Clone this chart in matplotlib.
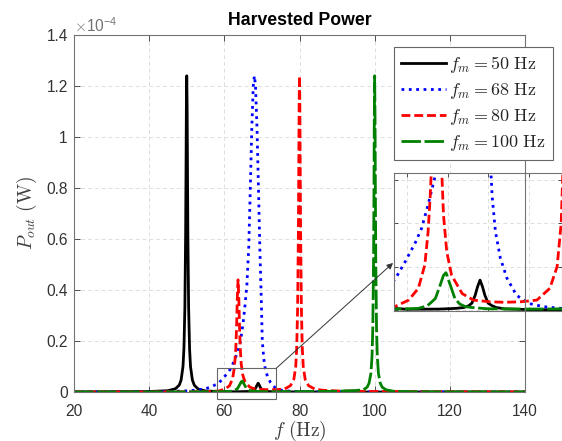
import matplotlib

matplotlib.use("Agg")
import matplotlib.pyplot as plt
import numpy as np
from matplotlib.lines import Line2D
from matplotlib.patches import Rectangle
from matplotlib.ticker import FuncFormatter

plt.rcParams["font.family"] = ["Liberation Sans", "DejaVu Sans"]
plt.rcParams["mathtext.fontset"] = "cm"

# power values in units of 1e-4 W
SCALE = 1e-4

f_black = [20, 30, 40, 45, 47, 48, 48.5, 49, 49.25, 49.5,
           49.7, 49.8, 49.9, 50, 50.1, 50.2, 50.3, 50.5, 50.75, 51,
           51.5, 52, 53, 55, 60, 64, 66, 67, 67.6, 68,
           68.4, 68.7, 69, 69.3, 69.6, 70, 70.5, 71, 72, 75,
           80, 90, 100, 120, 140]
p_black = [0.0005, 0.001, 0.002, 0.005, 0.013, 0.027, 0.047, 0.1, 0.17, 0.33,
           0.62, 0.86, 1.12, 1.24, 1.12, 0.86, 0.62, 0.33, 0.17, 0.1,
           0.047, 0.027, 0.012, 0.004, 0.001, 0.0012, 0.002, 0.003, 0.005, 0.008,
           0.017, 0.027, 0.0345, 0.027, 0.017, 0.008, 0.005, 0.003, 0.0015, 0.0006,
           0.0003, 0.0001, 0.0001, 0, 0]

f_blue = [20, 30, 40, 45, 50, 53, 55, 56.5, 58.5, 59.8,
          61.0, 61.8, 62.6, 63.5, 64.3, 65.0, 65.5, 66.0, 66.5, 66.9,
          67.3, 67.7, 68.0, 68.3, 68.7, 69.1, 69.4, 69.8, 70.1, 70.5,
          70.9, 71.5, 72.3, 73.5, 75.0, 76.8, 79, 82, 90, 100,
          120, 140]
p_blue = [0.0003, 0.0006, 0.0012, 0.002, 0.0045, 0.008, 0.013, 0.02, 0.035, 0.056,
          0.077, 0.094, 0.121, 0.155, 0.2, 0.27, 0.34, 0.42, 0.57, 0.79,
          1.03, 1.2, 1.24, 1.2, 1.03, 0.79, 0.59, 0.38, 0.2, 0.13,
          0.09, 0.06, 0.037, 0.017, 0.0077, 0.004, 0.002, 0.001, 0.0005, 0.0002,
          0.0001, 0]

f_red = [20, 40, 50, 55, 58.5, 60.2, 61.4, 62.2, 62.6, 62.85,
         63.05, 63.25, 63.45, 63.65, 63.85, 64.05, 64.3, 64.5, 64.9, 65.5,
         66.8, 68.2, 70.2, 72, 74, 76, 77.6, 78.5, 79.0, 79.25,
         79.5, 79.7, 79.8, 79.9, 80, 80.1, 80.2, 80.3, 80.5, 80.75,
         81, 81.5, 82.4, 84, 86, 90, 100, 120, 140]
p_red = [0.0001, 0.0004, 0.0008, 0.0015, 0.004, 0.0115, 0.025, 0.052, 0.09, 0.129,
         0.17, 0.25, 0.37, 0.44, 0.37, 0.25, 0.155, 0.109, 0.067, 0.04,
         0.019, 0.0115, 0.0096, 0.009, 0.0096, 0.0115, 0.025, 0.05, 0.1, 0.17,
         0.33, 0.62, 0.86, 1.12, 1.24, 1.12, 0.86, 0.62, 0.33, 0.17,
         0.1, 0.05, 0.025, 0.012, 0.007, 0.004, 0.002, 0.001, 0.0005]

f_green = [20, 40, 50, 55, 60, 61.4, 62.5, 63.0, 63.5, 64.1,
           64.5, 64.8, 65.1, 65.4, 65.9, 66.5, 67.2, 68, 70, 75,
           80, 90, 95, 97, 98, 98.5, 99, 99.3, 99.5, 99.7,
           99.8, 99.9, 100, 100.1, 100.2, 100.3, 100.5, 100.7, 101, 101.5,
           102, 103, 105, 110, 120, 140]
p_green = [0, 0.0003, 0.0006, 0.001, 0.0015, 0.002, 0.005, 0.009, 0.0134, 0.029,
           0.040, 0.043, 0.035, 0.027, 0.0134, 0.007, 0.004, 0.003, 0.0015, 0.0012,
           0.0015, 0.003, 0.006, 0.0086, 0.019, 0.034, 0.073, 0.14, 0.248, 0.508,
           0.756, 1.07, 1.24, 1.07, 0.756, 0.508, 0.248, 0.14, 0.073, 0.034,
           0.019, 0.0086, 0.003, 0.001, 0.0005, 0.0002]

labels = [r"$f_m = 50\ \mathrm{Hz}$", r"$f_m = 68\ \mathrm{Hz}$",
          r"$f_m = 80\ \mathrm{Hz}$", r"$f_m = 100\ \mathrm{Hz}$"]

series = [
    (f_black, p_black, "black", (None, None)),
    (f_blue, p_blue, "#0000ff", (1, 1.65)),
    (f_red, p_red, "#ff0000", (3.2, 1.4)),
    (f_green, p_green, "#008000", (7, 1.3)),
]

W, H = 562, 441
fig = plt.figure(figsize=(W / 100, H / 100), dpi=100)
ax_rect = [74 / W, 1 - 392 / H, (525 - 74) / W, (392 - 35) / H]
ax = fig.add_axes(ax_rect)


def draw(a, with_labels):
    for (f, p, c, d), lab in zip(series, labels):
        kw = dict(color=c, lw=2, label=lab if with_labels else None)
        if d[0] is not None:
            kw["dashes"] = d
        a.plot(f, np.array(p) * SCALE, **kw)


def style(a):
    for s in a.spines.values():
        s.set_color("0.45")
        s.set_linewidth(0.8)
    a.grid(True, color="0.87", linestyle=(0, (4, 3)), lw=0.7)
    a.set_axisbelow(True)
    a.tick_params(direction="in", top=True, right=True, length=4, width=0.7,
                  color="0.3", labelcolor="0.2", labelsize=11.2)


draw(ax, True)
style(ax)
ax.set_xlim(20, 140)
ax.set_ylim(0, 1.4 * SCALE)
ax.set_xticks(np.arange(20, 141, 20))
ax.set_yticks(np.arange(0, 1.41, 0.2) * SCALE)
ax.yaxis.set_major_formatter(FuncFormatter(lambda v, _: f"{round(v / SCALE, 2):g}"))
ax.tick_params(axis="x", pad=9)
ax.tick_params(axis="y", pad=4.5)
ax.text(0.0, 0.999, r"$\times\mathdefault{10^{-4}}$", transform=ax.transAxes,
        ha="left", va="bottom", fontsize=11.2, color="0.45")
ax.set_title("Harvested Power", fontsize=12.7, fontweight="bold", pad=7)
ax.set_xlabel(r"$f\ \mathrm{(Hz)}$", fontsize=14, color="0.25")
ax.set_ylabel(r"$P_{out}\ \mathrm{(W)}$", fontsize=14, color="0.25")
ax.xaxis.set_label_coords(0.5, -0.074)
ax.yaxis.set_label_coords(-0.078, 0.5)

leg = ax.legend(loc="upper left", bbox_to_anchor=(394 / W, 1 - 47 / H),
                bbox_transform=fig.transFigure, fontsize=13, fancybox=False,
                edgecolor="0.4", framealpha=1, borderaxespad=0, handlelength=2.5,
                handletextpad=0.15, labelspacing=0.33, borderpad=0.4)
leg.get_frame().set_linewidth(0.8)
for t in leg.get_texts():
    t.set_color("0.15")

# zoom box in the main axes
box_x = [58.05, 73.8]
box_y = [-0.0275, 0.093]
ax.add_patch(Rectangle((box_x[0], box_y[0] * SCALE), box_x[1] - box_x[0],
                       (box_y[1] - box_y[0]) * SCALE, fill=False,
                       edgecolor="0.4", lw=0.8, clip_on=False, zorder=5))

# inset
ins_rect = [394 / W, 1 - 311 / H, (562 - 394) / W, (311 - 173) / H]
ins = fig.add_axes(ins_rect)
draw(ins, False)
style(ins)
ins.set_xlim(58.4, 79.1)
ins.set_ylim(-0.001 * SCALE, 0.1575 * SCALE)
ins.set_xticks([60, 65, 70, 75])
ins.set_yticks(np.array([0, 0.05, 0.1, 0.15]) * SCALE)
ins.tick_params(labelbottom=False, labelleft=False, length=3)

ax.annotate("", xy=(393 / W, 1 - 263 / H), xycoords="figure fraction",
            xytext=(box_x[1], box_y[1] * SCALE), textcoords="data",
            arrowprops=dict(arrowstyle="-|>", color="0.2", lw=0.7,
                            mutation_scale=9, shrinkA=0, shrinkB=0),
            annotation_clip=False, zorder=6)

# main axes right edge shows over the inset
right = ax_rect[0] + ax_rect[2]
fig.add_artist(Line2D([right, right], [ins_rect[1], ins_rect[1] + ins_rect[3]],
                      transform=fig.transFigure, color="0.45", lw=0.8, zorder=5))

fig.savefig("out.png", dpi=100)
